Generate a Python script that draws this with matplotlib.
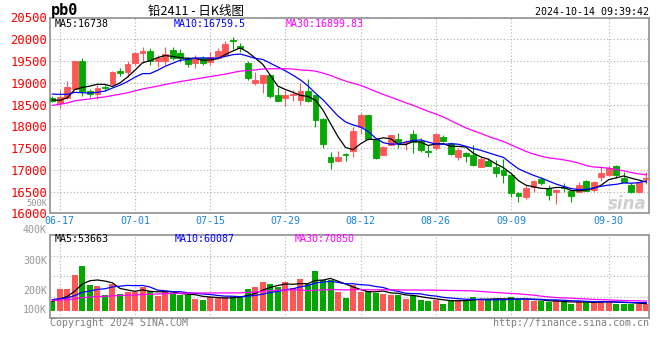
import matplotlib
matplotlib.use("Agg")
import matplotlib.pyplot as plt
import numpy as np
import pandas as pd

W, H = 660, 360

# trading days shown, 06-14 .. 10-14
dates = ("06-14 06-17 06-18 06-19 06-20 06-21 06-24 06-25 06-26 06-27 06-28 "
         "07-01 07-02 07-03 07-04 07-05 07-08 07-09 07-10 07-11 07-12 "
         "07-15 07-16 07-17 07-18 07-19 07-22 07-23 07-24 07-25 07-26 "
         "07-29 07-30 07-31 08-01 08-02 08-05 08-06 08-07 08-08 08-09 "
         "08-12 08-13 08-14 08-15 08-16 08-19 08-20 08-21 08-22 08-23 "
         "08-26 08-27 08-28 08-29 08-30 09-02 09-03 09-04 09-05 09-06 "
         "09-09 09-10 09-11 09-12 09-13 09-18 09-19 09-20 "
         "09-23 09-24 09-25 09-26 09-27 09-30 10-08 10-09 10-10 10-11 10-14").split()
tick_dates = ["06-17", "07-01", "07-15", "07-29", "08-12", "08-26", "09-09", "09-30"]

open_ = [18640, 18530, 18660, 18860, 19510, 18810, 18740, 18900, 18980, 19270,
         19250, 19450, 19680, 19730, 19490, 19500, 19750, 19690, 19560, 19450,
         19560, 19470, 19560, 19640, 19990, 19840, 19460, 18990, 18990, 19180,
         18720, 18660, 18710, 18600, 18810, 18720, 18160, 17290, 17200, 17370,
         17430, 17990, 18260, 17700, 17340, 17570, 17700, 17610, 17820, 17670,
         17440, 17490, 17760, 17610, 17290, 17390, 17340, 17070, 17210, 17060,
         17000, 16880, 16470, 16380, 16610, 16780, 16570, 16500, 16610, 16510,
         16500, 16740, 16540, 16840, 16880, 17090, 16800, 16650, 16490, 16790]
high = [18700, 18830, 19030, 19500, 19570, 18850, 18950, 18960, 19260, 19330,
        19500, 19710, 19830, 19790, 19640, 19830, 19830, 19770, 19600, 19640,
        19610, 19710, 19790, 19950, 20050, 19910, 19490, 19250, 19180, 19200,
        18910, 18830, 18830, 18990, 19090, 18730, 18200, 17420, 17430, 17390,
        17990, 18310, 18260, 17710, 17540, 17810, 17850, 17680, 17910, 17720,
        17570, 17850, 17800, 17650, 17490, 17400, 17580, 17300, 17270, 17230,
        17240, 16890, 16500, 16650, 16770, 16840, 16650, 16560, 16690, 16540,
        16730, 16770, 16740, 17070, 17090, 17100, 16960, 16690, 16730, 16960]
low = [18560, 18410, 18630, 18850, 18690, 18680, 18620, 18810, 18950, 19160,
       19140, 19410, 19450, 19400, 19370, 19410, 19520, 19480, 19370, 19340,
       19410, 19410, 19540, 19620, 19780, 19700, 19060, 18950, 18760, 18640,
       18580, 18470, 18570, 18490, 18560, 17990, 17490, 17020, 17190, 17210,
       17300, 17820, 17690, 17250, 17330, 17560, 17490, 17460, 17380, 17400,
       17290, 17460, 17640, 17340, 17230, 17190, 17090, 17060, 17080, 16840,
       16690, 16380, 16270, 16340, 16500, 16650, 16310, 16210, 16500, 16270,
       16490, 16510, 16500, 16750, 16860, 16800, 16720, 16470, 16470, 16670]
close = [18590, 18680, 18900, 19490, 18800, 18750, 18890, 18880, 19250, 19220,
         19420, 19680, 19730, 19490, 19560, 19670, 19580, 19580, 19420, 19560,
         19450, 19600, 19740, 19890, 19970, 19810, 19100, 19060, 19170, 18700,
         18580, 18720, 18740, 18810, 18580, 18140, 17590, 17190, 17300, 17340,
         17900, 18260, 17700, 17280, 17530, 17800, 17630, 17650, 17650, 17460,
         17400, 17820, 17660, 17360, 17450, 17320, 17110, 17240, 17090, 16920,
         16880, 16460, 16400, 16570, 16740, 16700, 16420, 16540, 16570, 16400,
         16650, 16520, 16730, 16930, 17030, 16870, 16730, 16480, 16710, 16800]
# volume, thousand lots
volume = [75, 160, 160, 270, 338, 195, 188, 120, 203, 128,
          137, 137, 175, 150, 107, 145, 125, 120, 120, 90,
          83, 100, 100, 100, 100, 107, 165, 180, 218, 203,
          180, 218, 173, 240, 203, 300, 233, 233, 137, 98,
          190, 137, 150, 133, 128, 120, 120, 90, 113, 83,
          75, 83, 53, 83, 77, 83, 105, 83, 83, 90,
          83, 100, 83, 83, 70, 70, 65, 77, 62, 53,
          70, 65, 60, 75, 68, 53, 53, 53, 53, 53]

# sessions before 06-14 (estimated from where the MA lines start)
prior_close = [17900, 17980, 18050, 18120, 18100, 18150, 18230, 18300, 18380, 18350,
               18420, 18380, 18500, 18560, 18600, 18520, 18600, 18640, 18580, 18640,
               18750, 18900, 19020, 18880, 18830, 18720, 18600, 18540, 18570]
prior_volume = [70, 80, 65, 75, 85, 72, 68, 78, 74, 70, 76, 82, 66, 72, 78, 74, 70, 80, 76, 69,
                88, 102, 96, 92, 97, 74, 68, 66, 72]

price_labels = ["MA5:16738", "MA10:16759.5", "MA30:16899.83"]
vol_labels = ["MA5:53663", "MA10:60087", "MA30:70850"]
vol_ticks = ["500K", "400K", "300K", "200K", "100K"]

RED, GREEN = "#ff5656", "#00a800"
MA_COLORS = ["black", "#0000ff", "#ff00ff"]
MONO = "DejaVu Sans Mono"
GRID = dict(color="#b0b0b0", ls=(0, (1, 2)), lw=0.8)


def box(l, t, r, b):
    return [l / W, 1 - b / H, (r - l) / W, (b - t) / H]


def px(x, y):
    return x / W, 1 - y / H


x = np.arange(len(close))
o, hi, lo, c = map(np.array, (open_, high, low, close))
cols = np.where(c >= o, RED, GREEN)
n_prior = len(prior_close)
ma_price = [pd.Series(prior_close + close).rolling(n).mean().values[n_prior:] for n in (5, 10, 30)]
ma_vol = [pd.Series(prior_volume + volume).rolling(n).mean().values[n_prior:] for n in (5, 10, 30)]
tick_pos = [dates.index(d) for d in tick_dates]

fig = plt.figure(figsize=(W / 100, H / 100), dpi=100)
ax = fig.add_axes(box(50, 17.5, 649.3, 213.3))
axv = fig.add_axes(box(50, 234.7, 649.3, 318))

# price panel
ax.vlines(x, lo, hi, colors=cols, lw=0.8, zorder=2)
ax.bar(x, c - o, bottom=o, width=0.78, color=cols, edgecolor=cols, lw=0.6, zorder=3)
for m, col in zip(ma_price, MA_COLORS):
    ax.plot(x, m, color=col, lw=0.9, zorder=4)
ax.set_xlim(-0.31, 79.4)
ax.set_ylim(16000, 20500)
ax.set_yticks(range(16000, 20501, 500))
ax.set_xticks(tick_pos)
ax.set_xticklabels(tick_dates)
ax.grid(True, **GRID)
ax.set_axisbelow(True)
ax.tick_params(length=0, pad=2)
for t in ax.get_yticklabels():
    t.set(color="#ff0000", family=MONO, fontsize=8.8)
for t in ax.get_xticklabels():
    t.set(color="#1a86d8", family=MONO, fontsize=7.2)
ax.text(0.995, 0.05, "sina", transform=ax.transAxes, ha="right", va="center",
        color="#cfcfcf", fontsize=12, style="italic", weight="bold", zorder=1)

# volume panel
axv.bar(x, volume, width=0.8, color=cols, lw=0)
for m, col in zip(ma_vol, MA_COLORS):
    axv.plot(x, m, color=col, lw=0.9)
axv.set_xlim(ax.get_xlim())
axv.set_ylim(-55, 570)
axv.set_yticks([-55 + f * 625 for f in (0.25, 0.5, 0.75)])
axv.set_xticks(tick_pos)
axv.grid(True, **GRID)
axv.set_axisbelow(True)
axv.tick_params(length=0, labelleft=False, labelbottom=False)

for a in (ax, axv):
    for s in a.spines.values():
        s.set_color("#999999")
        s.set_linewidth(1.3)

small = dict(family=MONO, fontsize=7.2, va="center")
for lab, col, xp in zip(price_labels, MA_COLORS, (55, 174, 286)):
    fig.text(*px(xp, 24), lab, color=col, **small)
for lab, col, xp in zip(vol_labels, MA_COLORS, (55, 175, 295)):
    fig.text(*px(xp, 238.5), lab, color=col, **small)
for lab, yp in zip(vol_ticks[1:], (230.5, 260.5, 290.5, 310)):
    fig.text(*px(47, yp), lab, color="#999999", ha="right", **small)
# squeezed between the 16500 and 16000 price labels, as in the original
fig.text(*px(47, 203), vol_ticks[0], color="#999999", ha="right",
         family=MONO, fontsize=6.3, va="center")

fig.text(*px(51, 11), "pb0", family=MONO, weight="bold", fontsize=11, va="center")
fig.text(*px(196, 11), "铅2411 - 日K线图", family=["Noto Sans CJK SC", "DejaVu Sans"],
         fontsize=9, ha="center", va="center")
fig.text(*px(649, 12), "2024-10-14 09:39:42", ha="right", **small)
fig.text(*px(50, 323.5), "Copyright 2024 SINA.COM", color="#808080", **small)
fig.text(*px(649, 323.5), "http://finance.sina.com.cn", color="#808080", ha="right", **small)

fig.savefig("out.png", dpi=100)
